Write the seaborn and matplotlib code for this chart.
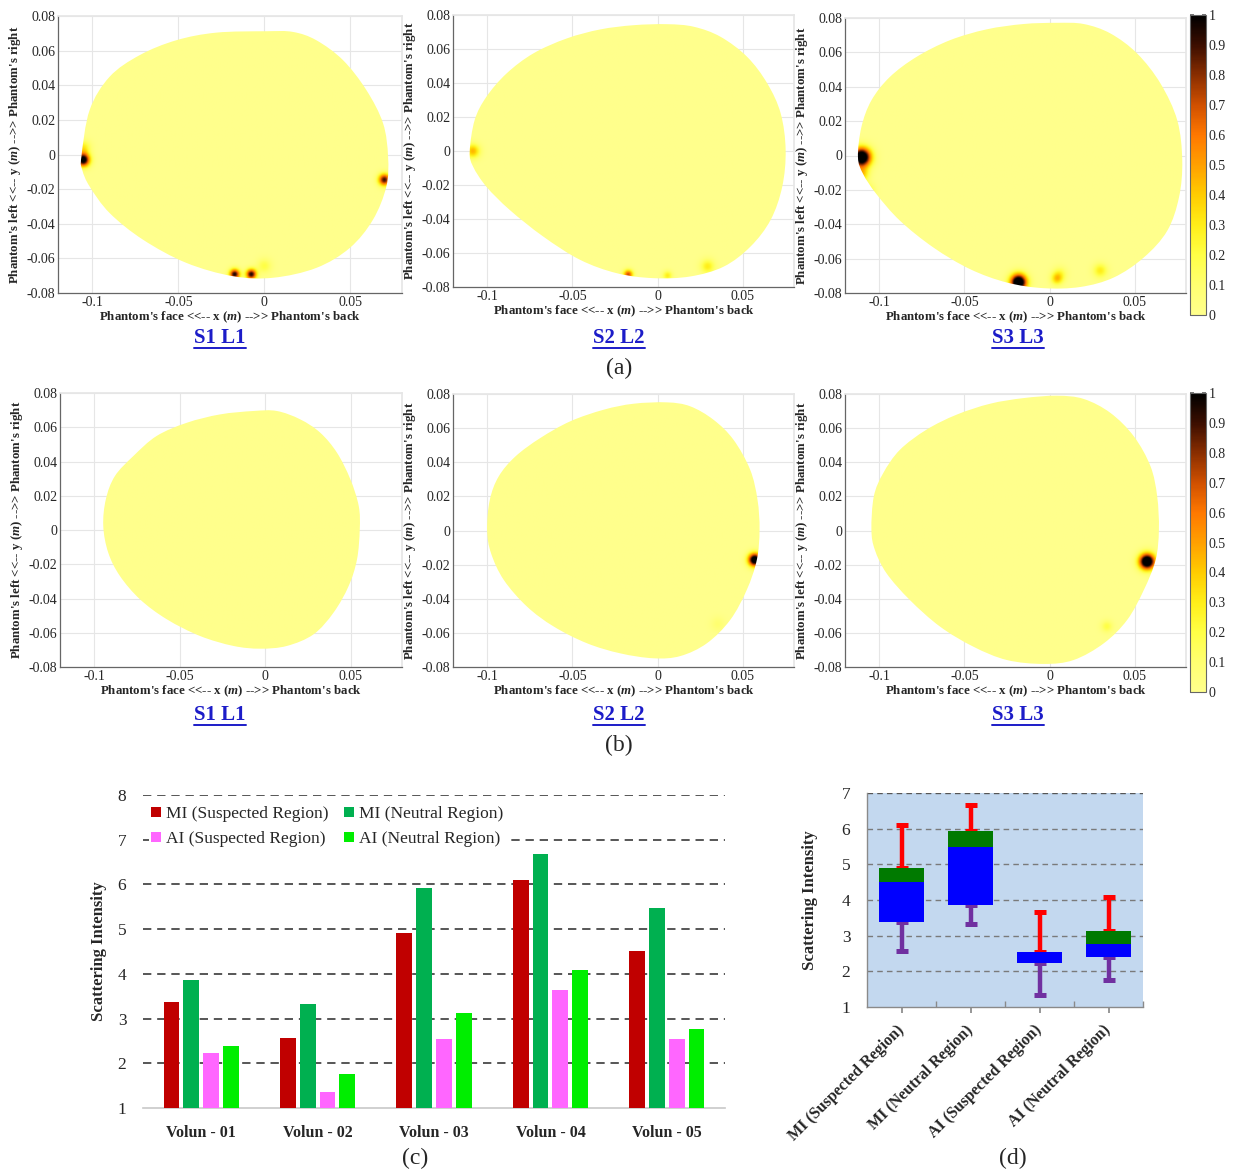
import numpy as np
import pandas as pd
import matplotlib
matplotlib.use("Agg")
import matplotlib.pyplot as plt
import seaborn as sns
from matplotlib.path import Path
from matplotlib.patches import PathPatch, Patch
from matplotlib.lines import Line2D
from matplotlib.colors import LinearSegmentedColormap

# ---------------- data: bar chart (c) ----------------
volunteers = ["Volun - 01", "Volun - 02", "Volun - 03", "Volun - 04", "Volun - 05"]
series_names = ["MI (Suspected Region)", "MI (Neutral Region)",
                "AI (Suspected Region)", "AI (Neutral Region)"]
mi_suspected = [3.38, 2.57, 4.91, 6.11, 4.51]
mi_neutral = [3.86, 3.33, 5.93, 6.67, 5.48]
ai_suspected = [2.24, 1.35, 2.54, 3.65, 2.54]
ai_neutral = [2.39, 1.75, 3.12, 4.08, 2.76]
bar_yticks = [1, 2, 3, 4, 5, 6, 7, 8]
box_yticks = [1, 2, 3, 4, 5, 6, 7]

# ---------------- data: heat maps (a), (b) ----------------
panel_titles = ["S1 L1", "S2 L2", "S3 L3"]
heat_xticks = [-0.1, -0.05, 0, 0.05]
heat_xticklabels = ["-0.1", "-0.05", "0", "0.05"]
heat_yticks = [0.08, 0.06, 0.04, 0.02, 0, -0.02, -0.04, -0.06, -0.08]
heat_yticklabels = ["0.08", "0.06", "0.04", "0.02", "0", "-0.02", "-0.04", "-0.06", "-0.08"]
cbar_ticks = [0, 0.1, 0.2, 0.3, 0.4, 0.5, 0.6, 0.7, 0.8, 0.9, 1]
cbar_ticklabels = ["0", "0.1", "0.2", "0.3", "0.4", "0.5", "0.6", "0.7", "0.8", "0.9", "1"]

# phantom outlines (m)
a1_bx = [-0.1064, -0.1016, -0.0900, -0.0725, -0.0512, -0.0279, 0.0011, 0.0166, 0.0302, 0.0457, 0.0593, 0.0690,
         0.0719, 0.0709, 0.0631, 0.0496, 0.0302, 0.0050, -0.0183, -0.0454, -0.0706, -0.0900, -0.1016, -0.1059]
a1_by = [-0.0012, 0.0257, 0.0449, 0.0574, 0.0660, 0.0704, 0.0712, 0.0708, 0.0660, 0.0545, 0.0372, 0.0180,
         -0.0012, -0.0185, -0.0377, -0.0540, -0.0655, -0.0712, -0.0703, -0.0626, -0.0492, -0.0338, -0.0185, -0.0089]
a2_bx = [-0.1102, -0.1073, -0.1004, -0.0886, -0.0729, -0.0533, -0.0337, -0.0141, 0.0055, 0.0212, 0.0369, 0.0525,
         0.0643, 0.0722, 0.0751, 0.0731, 0.0663, 0.0545, 0.0388, 0.0192, -0.0024, -0.0239, -0.0455, -0.0671,
         -0.0867, -0.1004, -0.1082]
a2_by = [-0.0004, 0.0182, 0.0319, 0.0456, 0.0574, 0.0662, 0.0715, 0.0740, 0.0746, 0.0731, 0.0672, 0.0554,
         0.0398, 0.0221, 0.0006, -0.0210, -0.0405, -0.0562, -0.0680, -0.0738, -0.0748, -0.0719, -0.0640, -0.0503,
         -0.0347, -0.0210, -0.0092]
a3_bx = [-0.1124, -0.1104, -0.1045, -0.0937, -0.0780, -0.0584, -0.0369, -0.0153, 0.0043, 0.0200, 0.0357, 0.0514,
         0.0651, 0.0749, 0.0778, 0.0759, 0.0690, 0.0553, 0.0376, 0.0180, -0.0035, -0.0251, -0.0467, -0.0682,
         -0.0878, -0.1016, -0.1094]
a3_by = [-0.0010, 0.0165, 0.0321, 0.0457, 0.0574, 0.0671, 0.0734, 0.0765, 0.0772, 0.0765, 0.0710, 0.0593,
         0.0418, 0.0204, -0.0029, -0.0243, -0.0438, -0.0593, -0.0710, -0.0765, -0.0772, -0.0739, -0.0661, -0.0535,
         -0.0379, -0.0224, -0.0107]
b1_bx = [-0.0947, -0.0932, -0.0879, -0.0771, -0.0635, -0.0459, -0.0264, -0.0068, 0.0068, 0.0205, 0.0322, 0.0420,
         0.0498, 0.0547, 0.0553, 0.0537, 0.0488, 0.0400, 0.0283, 0.0127, -0.0029, -0.0186, -0.0381, -0.0576,
         -0.0732, -0.0850, -0.0918]
b1_by = [0.0023, 0.0179, 0.0315, 0.0432, 0.0549, 0.0626, 0.0675, 0.0695, 0.0695, 0.0646, 0.0568, 0.0451,
         0.0296, 0.0140, 0.0004, -0.0171, -0.0327, -0.0482, -0.0609, -0.0677, -0.0693, -0.0677, -0.0619, -0.0521,
         -0.0405, -0.0268, -0.0132]
b2_bx = [-0.1000, -0.0984, -0.0932, -0.0834, -0.0688, -0.0512, -0.0316, -0.0141, 0.0055, 0.0191, 0.0328, 0.0445,
         0.0543, 0.0586, 0.0598, 0.0582, 0.0523, 0.0426, 0.0289, 0.0133, -0.0023, -0.0219, -0.0414, -0.0609,
         -0.0766, -0.0902, -0.0977]
b2_by = [0.0004, 0.0180, 0.0317, 0.0434, 0.0542, 0.0640, 0.0708, 0.0743, 0.0751, 0.0728, 0.0649, 0.0532,
         0.0356, 0.0180, 0.0004, -0.0172, -0.0348, -0.0524, -0.0661, -0.0736, -0.0749, -0.0720, -0.0661, -0.0563,
         -0.0446, -0.0290, -0.0133]
b3_bx = [-0.1045, -0.1031, -0.0976, -0.0878, -0.0722, -0.0545, -0.0349, -0.0153, 0.0043, 0.0200, 0.0357, 0.0494,
         0.0592, 0.0631, 0.0641, 0.0622, 0.0553, 0.0455, 0.0318, 0.0141, -0.0035, -0.0251, -0.0447, -0.0643,
         -0.0820, -0.0957, -0.1025]
b3_by = [0.0004, 0.0200, 0.0336, 0.0473, 0.0591, 0.0679, 0.0743, 0.0776, 0.0790, 0.0771, 0.0689, 0.0552,
         0.0376, 0.0200, 0.0004, -0.0172, -0.0348, -0.0524, -0.0661, -0.0759, -0.0782, -0.0759, -0.0681, -0.0563,
         -0.0407, -0.0250, -0.0113]

# scattering hot spots: x (m), y (m), peak intensity, spread (m)
a1_hx = [-0.1055, -0.1055, 0.0699, -0.0173, -0.0076, 0.0000]
a1_hy = [-0.0031, 0.0040, -0.0146, -0.0693, -0.0693, -0.0645]
a1_ha = [1.1, 0.3, 0.9, 0.95, 0.95, 0.2]
a1_hr = [0.0028, 0.0030, 0.0025, 0.0022, 0.0022, 0.0030]
a2_hx = [-0.1086, -0.0175, 0.0055, 0.0290]
a2_hy = [0.0000, -0.0728, -0.0734, -0.0680]
a2_ha = [0.45, 0.7, 0.3, 0.3]
a2_hr = [0.0030, 0.0020, 0.0020, 0.0030]
a3_hx = [-0.1104, -0.1104, -0.1070, -0.0182, 0.0043, 0.0298, 0.0060]
a3_hy = [-0.0010, -0.0110, -0.0204, -0.0739, -0.0720, -0.0671, -0.0690]
a3_ha = [1.3, 0.4, 0.25, 1.3, 0.35, 0.3, 0.2]
a3_hr = [0.0040, 0.0030, 0.0030, 0.0035, 0.0025, 0.0030, 0.0030]
b1_hx, b1_hy, b1_ha, b1_hr = [], [], [], []
b2_hx = [0.0566, 0.0350]
b2_hy = [-0.0172, -0.0550]
b2_ha = [1.2, 0.1]
b2_hr = [0.0028, 0.0030]
b3_hx = [0.0573, 0.0337]
b3_hy = [-0.0182, -0.0563]
b3_ha = [1.3, 0.2]
b3_hr = [0.0034, 0.0025]

# ---------------- style ----------------
sns.set_theme(style="white")
plt.rcParams["font.family"] = ["Liberation Serif", "DejaVu Serif"]
plt.rcParams["mathtext.fontset"] = "custom"
plt.rcParams["mathtext.it"] = "Liberation Serif:italic:bold"
plt.rcParams["mathtext.rm"] = "Liberation Serif:bold"
plt.rcParams["mathtext.bf"] = "Liberation Serif:bold"
plt.rcParams["axes.unicode_minus"] = False

W, H = 1238, 1174
fig = plt.figure(figsize=(W / 100, H / 100), dpi=100)
fig.patch.set_facecolor("white")


def rect(l, t, r, b):
    return [l / W, 1 - b / H, (r - l) / W, (b - t) / H]


def smooth_outline(xs, ys):
    """Closed Catmull-Rom outline through the given points, as Bezier path."""
    P = np.column_stack([xs, ys])
    n = len(P)
    verts = [P[0]]
    codes = [Path.MOVETO]
    for i in range(n):
        p0, p1, p2, p3 = P[i - 1], P[i], P[(i + 1) % n], P[(i + 2) % n]
        verts += [p1 + (p2 - p0) / 6, p2 - (p3 - p1) / 6, p2]
        codes += [Path.CURVE4] * 3
    verts.append(P[0])
    codes.append(Path.CLOSEPOLY)
    return Path(np.array(verts), codes)


cmap = LinearSegmentedColormap.from_list("scatter", [
    (0.0, "#ffff8c"), (0.1, "#ffff70"), (0.2, "#ffff45"), (0.3, "#ffee18"),
    (0.4, "#ffcc00"), (0.5, "#ffa000"), (0.6, "#ff7800"), (0.7, "#d05000"),
    (0.8, "#8a2e00"), (0.9, "#3c0e00"), (1.0, "#000000")])

panels = [
    (a1_bx, a1_by, a1_hx, a1_hy, a1_ha, a1_hr, (58, 16, 402, 293)),
    (a2_bx, a2_by, a2_hx, a2_hy, a2_ha, a2_hr, (453, 15, 794, 287)),
    (a3_bx, a3_by, a3_hx, a3_hy, a3_ha, a3_hr, (845, 18, 1186, 293)),
    (b1_bx, b1_by, b1_hx, b1_hy, b1_ha, b1_hr, (60, 393, 402, 667)),
    (b2_bx, b2_by, b2_hx, b2_hy, b2_ha, b2_hr, (453, 394, 794, 667)),
    (b3_bx, b3_by, b3_hx, b3_hy, b3_ha, b3_hr, (845, 394, 1186, 667)),
]

gx = np.linspace(-0.12, 0.08, 600)
gy = np.linspace(-0.08, 0.08, 480)
GX, GY = np.meshgrid(gx, gy)
xlab = "Phantom's face <<-- x ($m$) -->> Phantom's back"
ylab = "Phantom's left <<-- y ($m$) -->> Phantom's right"

images = []
for bx, by, hx, hy, ha, hr, (l, t, r, b) in panels:
    ax = fig.add_axes(rect(l, t, r, b))
    wpx, hpx = r - l, b - t
    Z = np.zeros_like(GX)
    for x0, y0, a, s in zip(hx, hy, ha, hr):
        Z += a * np.exp(-((GX - x0) ** 2 + (GY - y0) ** 2) / (2 * s * s))
    Z = np.clip(Z, 0, 1)
    im = ax.imshow(Z, extent=[-0.12, 0.08, -0.08, 0.08], origin="lower", cmap=cmap,
                   vmin=0, vmax=1, aspect="auto", interpolation="bilinear", zorder=1)
    patch = PathPatch(smooth_outline(bx, by), transform=ax.transData,
                      facecolor="none", edgecolor="none")
    ax.add_patch(patch)
    im.set_clip_path(patch)
    images.append(im)
    ax.set_xlim(-0.12, 0.08)
    ax.set_ylim(-0.08, 0.08)
    ax.set_xticks(heat_xticks)
    ax.set_xticklabels(heat_xticklabels)
    ax.set_yticks(heat_yticks)
    ax.set_yticklabels(heat_yticklabels)
    ax.grid(True, color="#e6e6e6", lw=0.8)
    ax.set_axisbelow(True)
    for s in ["top", "right"]:
        ax.spines[s].set_color("#e6e6e6")
    for s in ["left", "bottom"]:
        ax.spines[s].set_color("#666666")
        ax.spines[s].set_linewidth(0.9)
    ax.tick_params(labelsize=10, length=3, direction="in", color="#666666", pad=2)
    ax.set_xlabel(xlab, fontsize=9.3, fontweight="bold")
    ax.set_ylabel(ylab, fontsize=9.3, fontweight="bold")
    ax.xaxis.set_label_coords(0.5, -17 / hpx)
    ax.yaxis.set_label_coords(-35 / wpx, 0.5)

for (t, b), im in zip([(15, 315), (393, 692)], [images[2], images[5]]):
    cax = fig.add_axes(rect(1190, t, 1206, b))
    cb = fig.colorbar(im, cax=cax, ticks=cbar_ticks)
    cb.ax.set_yticklabels(cbar_ticklabels)
    cb.ax.tick_params(labelsize=10, length=3, direction="in", pad=2, color="#666666",
                      left=True, right=True, labelleft=False, labelright=True)
    cb.outline.set_edgecolor("#666666")
    cb.outline.set_linewidth(0.8)

# titles
title_artists = []
for row_y in (338, 715):
    for cx, s in zip((220, 619, 1018), panel_titles):
        tt = fig.text(cx / W, 1 - row_y / H, s, ha="center", va="center", fontsize=15,
                      fontweight="bold", color="#1c1cc8")
        title_artists.append((tt, row_y))

for txt, (px, py) in zip(["(a)", "(b)", "(c)", "(d)"],
                         [(619, 368), (619, 745), (415, 1158), (1013, 1158)]):
    fig.text(px / W, 1 - py / H, txt, ha="center", va="center", fontsize=17)

# ---------------- (c) bar chart ----------------
series_colors = ["#c00000", "#00b050", "#ff66ff", "#00ee00"]
df = pd.DataFrame({
    "Volunteer": volunteers * 4,
    "Series": np.repeat(series_names, len(volunteers)),
    "Value": mi_suspected + mi_neutral + ai_suspected + ai_neutral,
})
axc = fig.add_axes(rect(143, 795, 725, 1108))
sns.barplot(data=df, x="Volunteer", y="Value", hue="Series", hue_order=series_names,
            palette=series_colors, saturation=1, width=0.68, gap=0.2, ax=axc,
            legend=False, zorder=3, linewidth=0)
axc.set_xlim(-0.5, 4.5)
axc.set_ylim(1, 8)
axc.set_yticks(bar_yticks)
axc.set_yticklabels([str(v) for v in bar_yticks])
for v in bar_yticks[1:]:
    axc.axhline(v, color="#3a3a3a", lw=1.2, ls=(0, (5, 3.5)), zorder=1)
for s in ["top", "right", "left"]:
    axc.spines[s].set_visible(False)
axc.spines["bottom"].set_color("#c8c8c8")
axc.spines["bottom"].set_linewidth(1.2)
axc.tick_params(axis="y", length=0, labelsize=12.5, pad=12)
axc.tick_params(axis="x", length=0, pad=12)
for lab in axc.get_xticklabels():
    lab.set_fontweight("bold")
    lab.set_fontsize(11.5)
axc.set_xlabel("")
axc.set_ylabel("Scattering Intensity", fontsize=12, fontweight="bold")
axc.yaxis.set_label_coords(-36 / 582, 0.5)
handles = [Patch(facecolor=c, edgecolor="none") for c in series_colors]
order = [0, 2, 1, 3]
leg = axc.legend([handles[i] for i in order], [series_names[i] for i in order], ncol=2,
                 loc="upper left", bbox_to_anchor=(0.01, 0.972), frameon=True, framealpha=1,
                 facecolor="white", edgecolor="none", fontsize=12.5, handlelength=0.55,
                 handleheight=0.55, handletextpad=0.3, columnspacing=0.9, labelspacing=0.5,
                 borderpad=0.15, borderaxespad=0, fancybox=False)
leg.set_zorder(5)

# ---------------- (d) box chart ----------------
axd = fig.add_axes(rect(867, 793, 1143, 1007))
axd.set_facecolor("#c3d8ef")
box_labels = series_names
groups = [mi_suspected, mi_neutral, ai_suspected, ai_neutral]
for i, vals in enumerate(groups):
    mn, q1, med, q3, mx = np.percentile(vals, [0, 25, 50, 75, 100])
    axd.errorbar([i], [q3], yerr=[[0], [mx - q3]], fmt="none", ecolor="#ff0000",
                 elinewidth=3.2, capsize=4, capthick=3.6, zorder=2)
    axd.errorbar([i], [q1], yerr=[[q1 - mn], [0]], fmt="none", ecolor="#7030a0",
                 elinewidth=3.2, capsize=4, capthick=3.6, zorder=2)
    axd.bar(i, med - q1, bottom=q1, width=0.64, color="#0000ff", zorder=3, linewidth=0)
    axd.bar(i, q3 - med, bottom=med, width=0.64, color="#007a00", zorder=3, linewidth=0)
axd.set_xlim(-0.5, 3.5)
axd.set_ylim(1, 7)
axd.set_yticks(box_yticks)
axd.set_yticklabels([str(v) for v in box_yticks])
for v in box_yticks[1:]:
    axd.axhline(v, color="#7a7a7a" if v < 7 else "#555555", lw=1.0, ls=(0, (4, 3)), zorder=1)
for s in ["top", "right"]:
    axd.spines[s].set_visible(False)
for s in ["left", "bottom"]:
    axd.spines[s].set_color("#8a8a8a")
    axd.spines[s].set_linewidth(1.0)
axd.set_xticks(range(len(box_labels)))
axd.set_xticks([0.5, 1.5, 2.5, 3.5], minor=True)
axd.set_xticklabels(box_labels, rotation=45, ha="right", va="center", rotation_mode="anchor")
for lab in axd.get_xticklabels():
    lab.set_fontweight("bold")
    lab.set_fontsize(11.5)
axd.tick_params(axis="x", which="major", length=4, direction="out", color="#8a8a8a", pad=11,
                bottom=True)
axd.tick_params(axis="x", which="minor", length=4, direction="in", color="#8a8a8a", bottom=True)
axd.tick_params(axis="y", length=0, labelsize=12.5, pad=12)
axd.set_ylabel("Scattering Intensity", fontsize=12, fontweight="bold")
axd.yaxis.set_label_coords(-49 / 276, 0.5)

# underline the panel titles
fig.canvas.draw()
renderer = fig.canvas.get_renderer()
fw, fh = fig.bbox.width, fig.bbox.height
for tt, row_y in title_artists:
    bb = tt.get_window_extent(renderer)
    fig.add_artist(Line2D([bb.x0 / fw, bb.x1 / fw], [1 - (row_y + 10) / H] * 2,
                          color="#1c1cc8", lw=1.4, transform=fig.transFigure))

fig.savefig("out.png", dpi=100, facecolor="white")
